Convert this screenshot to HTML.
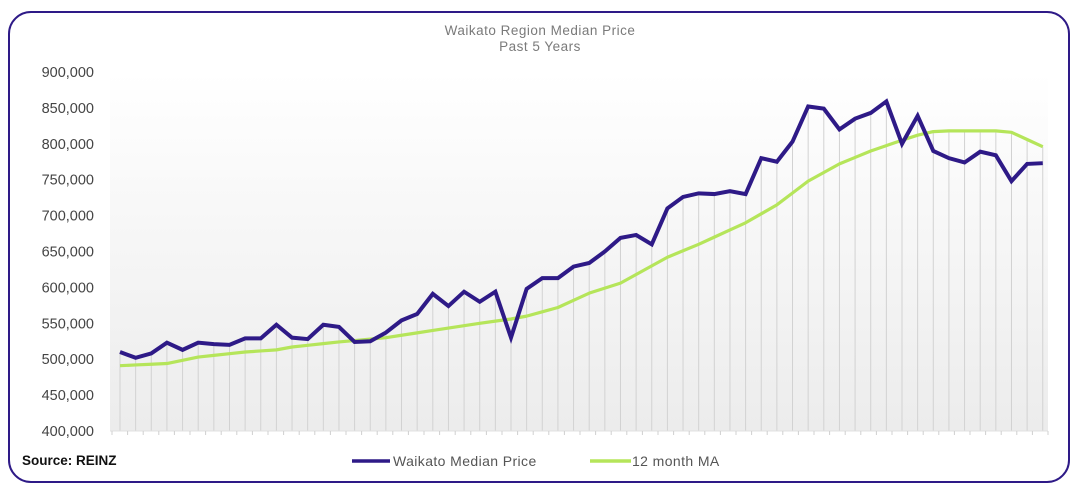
<!DOCTYPE html>
<html><head><meta charset="utf-8"><style>
html,body{margin:0;padding:0;background:#fff;width:1080px;height:495px;overflow:hidden}
svg{display:block;font-family:"Liberation Sans",sans-serif}
</style></head><body>
<svg id="s" width="1080" height="495" viewBox="0 0 1080 495">
<defs><linearGradient id="g" x1="0" y1="0" x2="0" y2="1"><stop offset="0" stop-color="#ffffff"/><stop offset="1" stop-color="#ececec"/></linearGradient></defs>
<rect x="9" y="12" width="1060" height="470" rx="22" fill="#fff" stroke="#2e1a87" stroke-width="2"/>
<rect x="110" y="72" width="938" height="359" fill="url(#g)"/>
<text x="540" y="35" text-anchor="middle" font-size="13.5" fill="#7a7a7a" letter-spacing="0.5">Waikato  Region  Median  Price</text>
<text x="540" y="51" text-anchor="middle" font-size="13.5" fill="#7a7a7a" letter-spacing="0.5">Past  5  Years</text>
<g id="yl" font-size="14.5" fill="#444" text-anchor="end"></g>
<g id="vl" stroke="#d2d2d2" stroke-width="1"></g>
<line x1="110" y1="431" x2="1048" y2="431" stroke="#e0e0e0"/>
<g id="tk" stroke="#d0d0d0"></g>
<polyline id="ma" fill="none" stroke="#b5e55a" stroke-width="3.2" stroke-linejoin="round"/>
<polyline id="bl" fill="none" stroke="#2e1a87" stroke-width="4" stroke-linejoin="miter"/>
<text x="22" y="465" font-size="13.5" font-weight="bold" fill="#111">Source: REINZ</text>
<line x1="352" y1="461" x2="390" y2="461" stroke="#2e1a87" stroke-width="3.5"/>
<text x="393" y="466" font-size="14" fill="#555" letter-spacing="0.4">Waikato Median Price</text>
<line x1="590" y1="461" x2="631" y2="461" stroke="#b5e55a" stroke-width="3.5"/>
<text x="632" y="466" font-size="14" fill="#555" letter-spacing="0.4">12 month MA</text>
</svg>
<script>
var ns="http://www.w3.org/2000/svg";
function Y(v){return 431-(v-400)*359/500;}
function X(i){return 120+i*15.64;}
var b=[510,502,508,523,513,523,521,520,529,529,548,530,528,548,545,524,525,537,554,563,591,574,594,580,594,530,598,613,613,629,634,650,669,673,660,710,726,731,730,734,730,780,775,803,852,849,820,835,843,859,800,839,790,780,774,789,784,748,772,773];
var ref=[[0,491],[3,494],[5,503],[8,510],[10,513],[11,517],[14,524],[17,530],[20,540],[23,550],[25,556],[26,560],[28,572],[30,592],[32,606],[35,642],[37,660],[40,690],[42,715],[44,748],[46,772],[48,790],[50,805],[51,812],[52,817],[53,818],[56,818],[57,816],[58,806],[59,796]];
var m=[];
for(var i=0;i<60;i++){for(var k=0;k<ref.length-1;k++){if(i>=ref[k][0]&&i<=ref[k+1][0]){var t=(i-ref[k][0])/(ref[k+1][0]-ref[k][0]);m.push(ref[k][1]+t*(ref[k+1][1]-ref[k][1]));break;}}}
var vl=document.getElementById('vl'),tk=document.getElementById('tk');
for(var i=0;i<60;i++){var yt=Math.min(Y(b[i]),Y(m[i]));var l=document.createElementNS(ns,'line');l.setAttribute('x1',X(i));l.setAttribute('x2',X(i));l.setAttribute('y1',yt);l.setAttribute('y2',431);vl.appendChild(l);}
for(var i=0;i<=60;i++){var x=112+i*15.6;var l=document.createElementNS(ns,'line');l.setAttribute('x1',x);l.setAttribute('x2',x);l.setAttribute('y1',431);l.setAttribute('y2',435);tk.appendChild(l);}
document.getElementById('bl').setAttribute('points',b.map(function(v,i){return X(i)+','+Y(v)}).join(' '));
document.getElementById('ma').setAttribute('points',m.map(function(v,i){return X(i)+','+Y(v)}).join(' '));
var yl=document.getElementById('yl');
for(var v=400;v<=900;v+=50){var t=document.createElementNS(ns,'text');t.setAttribute('x',94);t.setAttribute('y',Y(v)+5);t.textContent=v+',000';yl.appendChild(t);}
</script>
</body></html>
